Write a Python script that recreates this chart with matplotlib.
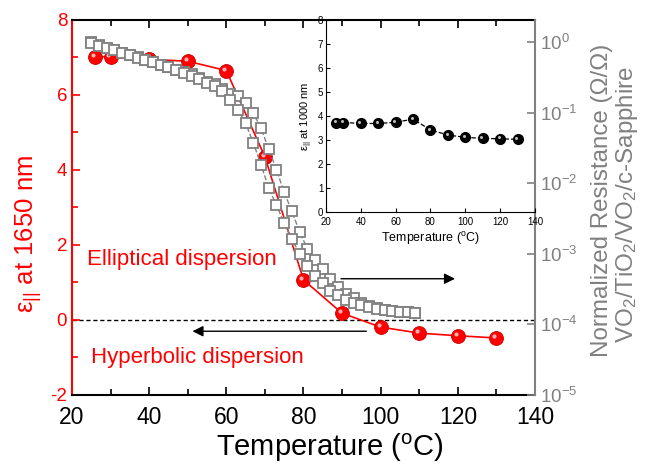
import numpy as np
import matplotlib
matplotlib.use('Agg')
import matplotlib.pyplot as plt
from matplotlib import transforms
from matplotlib.ticker import MultipleLocator, LogLocator, NullLocator

matplotlib.rcParams['font.family'] = ['Liberation Sans', 'DejaVu Sans']
matplotlib.rcParams['mathtext.fontset'] = 'custom'
matplotlib.rcParams['mathtext.rm'] = 'Liberation Sans'
matplotlib.rcParams['mathtext.it'] = 'Liberation Sans:italic'
matplotlib.rcParams['axes.unicode_minus'] = False
matplotlib.rcParams['xtick.direction'] = 'in'
matplotlib.rcParams['ytick.direction'] = 'in'

# permittivity data (red spheres, main plot)
temp_eps = [26, 30, 40, 50, 60, 70, 80, 90, 100, 110, 120, 130]
eps_1650 = [7.02, 7.02, 6.95, 6.9, 6.65, 4.35, 1.07, 0.18, -0.19, -0.35, -0.42, -0.48]
# inset data (black spheres)
eps_1000 = [3.73, 3.73, 3.69, 3.69, 3.74, 3.87, 3.42, 3.21, 3.11, 3.07, 3.05, 3.03]

# normalized resistance (log10), heating and cooling branch
temp_res = [25, 27, 29, 31, 33, 35, 37, 39, 41, 43, 45, 47, 49, 51, 53, 55, 57, 59, 61,
            63, 65, 67, 69, 71, 73, 75, 77, 79, 81, 83, 85, 87, 89, 91, 93, 95, 97, 99,
            101, 103, 105, 107, 109]
log_res_heat = [0.0, -0.04, -0.08, -0.11, -0.15, -0.18, -0.21, -0.25, -0.28, -0.32, -0.35,
                -0.39, -0.43, -0.46, -0.51, -0.56, -0.60, -0.67, -0.73, -0.77, -0.87, -1.01,
                -1.22, -1.52, -1.81, -2.13, -2.40, -2.69, -2.93, -3.09, -3.22, -3.35, -3.47,
                -3.57, -3.62, -3.69, -3.74, -3.77, -3.80, -3.81, -3.82, -3.83, -3.84]
log_res_cool = [-0.01, -0.05, -0.09, -0.12, -0.16, -0.19, -0.22, -0.26, -0.29, -0.33, -0.36,
                -0.40, -0.44, -0.48, -0.53, -0.58, -0.63, -0.69, -0.82, -0.96, -1.15, -1.43,
                -1.74, -2.07, -2.31, -2.57, -2.79, -3.00, -3.18, -3.31, -3.42, -3.52, -3.58,
                -3.65, -3.69, -3.72, -3.76, -3.78, -3.80, -3.81, -3.82, -3.83, -3.84]

red = '#ff0000'
grey = '#808080'

fig = plt.figure(figsize=(6.63, 4.67), dpi=100)
ax = fig.add_axes([0.1086, 0.1542, 0.6983, 0.803])

# red curve
ax.plot(temp_eps, eps_1650, '-', color=red, lw=1.2, zorder=2)
ax.plot(temp_eps, eps_1650, 'o', color=red, mec='#cc0000', mew=0.6, ms=10, zorder=3)
hl = transforms.offset_copy(ax.transData, fig=fig, x=-1.5, y=1.5, units='points')
ax.plot(temp_eps, eps_1650, 'o', color='#ffb0b0', mew=0, ms=3, transform=hl, zorder=4)

ax.axhline(0, color='k', ls=(0, (3, 2)), lw=1, zorder=1)

ax.annotate('', xy=(120, 1.1), xytext=(89, 1.1),
            arrowprops=dict(arrowstyle='-|>', color='k', lw=1, mutation_scale=16))
ax.annotate('', xy=(50.5, -0.3), xytext=(97, -0.3),
            arrowprops=dict(arrowstyle='-|>', color='k', lw=1, mutation_scale=16))

ax.text(24, 1.6, 'Elliptical dispersion', color=red, fontsize=16, va='center', ha='left')
ax.text(25, -1.0, 'Hyperbolic dispersion', color=red, fontsize=16, va='center', ha='left')

ax.set_xlim(20, 140)
ax.set_ylim(-2, 8)
ax.xaxis.set_major_locator(MultipleLocator(20))
ax.xaxis.set_minor_locator(MultipleLocator(10))
ax.yaxis.set_major_locator(MultipleLocator(2))
ax.yaxis.set_minor_locator(MultipleLocator(1))
ax.tick_params(axis='x', which='both', top=True, labelsize=16.5, colors='k', pad=8)
ax.tick_params(axis='x', which='major', length=6, width=1.2)
ax.tick_params(axis='x', which='minor', length=4, width=1.2)
ax.tick_params(axis='y', which='both', colors=red, labelsize=13.5, width=1.2)
ax.tick_params(axis='y', which='major', length=6)
ax.tick_params(axis='y', which='minor', length=4)
ax.spines['left'].set_color(red)
ax.spines['left'].set_linewidth(1.5)
ax.spines['bottom'].set_linewidth(1.5)
ax.spines['top'].set_linewidth(1.5)
ax.spines['right'].set_visible(False)

# resistance on right log axis
ax2 = ax.twinx()
ax2.plot(temp_res, 10 ** np.array(log_res_heat), '--s', color=grey, mfc='white', mec=grey,
         mew=1.3, ms=6.5, lw=1)
ax2.plot(temp_res, 10 ** np.array(log_res_cool), '--s', color=grey, mfc='white', mec=grey,
         mew=1.3, ms=6.5, lw=1)
ax2.set_yscale('log')
ax2.set_ylim(1e-5, 2.05)
ax2.yaxis.set_major_locator(LogLocator(base=10, numticks=10))
ax2.yaxis.set_minor_locator(NullLocator())
ax2.tick_params(axis='y', colors=grey, labelsize=13.5, length=6, width=1.2)
ax2.spines['right'].set_color(grey)
ax2.spines['right'].set_linewidth(1.5)
ax2.spines['left'].set_visible(False)
ax2.spines['top'].set_visible(False)
ax2.spines['bottom'].set_visible(False)

fig.text(0.043, 0.5, 'ε$_{||}$ at 1650 nm', color=red, fontsize=18.5, rotation=90,
         ha='center', va='center')
fig.text(0.497, 0.042, 'Temperature ($^{\\mathrm{o}}$C)', color='k', fontsize=21,
         ha='center', va='center')
fig.text(0.908, 0.572, 'Normalized Resistance (Ω/Ω)', color=grey, fontsize=17.4, rotation=90,
         ha='center', va='center')
fig.text(0.946, 0.563, 'VO$_2$/TiO$_2$/VO$_2$/c-Sapphire', color=grey, fontsize=17.4,
         rotation=90, ha='center', va='center')

# inset
axi = fig.add_axes([0.4917, 0.5460, 0.3152, 0.4111])
axi.patch.set_alpha(0)
axi.plot(temp_eps, eps_1000, '--', color='k', lw=0.9)
axi.plot(temp_eps, eps_1000, 'o', color='k', ms=7)
hl2 = transforms.offset_copy(axi.transData, fig=fig, x=-1, y=1, units='points')
axi.plot(temp_eps, eps_1000, 'o', color='#bbbbbb', mew=0, ms=2.2, transform=hl2)
axi.set_xlim(20, 140)
axi.set_ylim(0, 8)
axi.xaxis.set_major_locator(MultipleLocator(20))
axi.yaxis.set_major_locator(MultipleLocator(1))
axi.tick_params(labelsize=7, length=3, pad=2)
axi.tick_params(axis='x', pad=3.5)
axi.spines['top'].set_visible(False)
axi.spines['right'].set_visible(False)
axi.set_xlabel('Temperature ($^{\\mathrm{o}}$C)', fontsize=9, labelpad=2)
axi.set_ylabel('ε$_{||}$ at 1000 nm', fontsize=8, labelpad=2)

fig.savefig('out.png', dpi=100)
